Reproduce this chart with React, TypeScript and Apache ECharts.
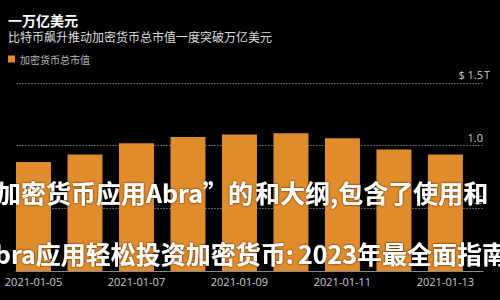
import React, { useEffect, useRef } from "react";
import * as echarts from "echarts";

// Daily total crypto market cap, trillions of USD
const dates = [
  "2021-01-05",
  "2021-01-06",
  "2021-01-07",
  "2021-01-08",
  "2021-01-09",
  "2021-01-10",
  "2021-01-11",
  "2021-01-12",
  "2021-01-13",
];
const marketCap = [0.87, 0.93, 1.02, 1.07, 1.09, 1.1, 1.06, 0.97, 0.93];
const labelledDays = [0, 2, 4, 6, 8];

const titleText = "一万亿美元";
const subtitleText = "比特币飙升推动加密货币总市值一度突破万亿美元";
const seriesName = "加密货币总市值";

const bannerLine1a = "“加密货币应用Abra”的";
const bannerLine1b = "和大纲,包含了使用和";
const bannerLine2a = "Abra应用轻松投资加密货币:";
const bannerLine2b = "2023年最全面指南";

const ORANGE = "#E08B2C";
const CJK = '"Noto Sans CJK SC", "Noto Sans", sans-serif';

export default function App() {
  const ref = useRef<HTMLDivElement>(null);

  useEffect(() => {
    if (!ref.current) return;
    const chart = echarts.init(ref.current, undefined, { renderer: "svg" });

    const bannerStyle = {
      fill: "#ffffff",
      fontSize: 25,
      fontWeight: "bold" as const,
      fontFamily: CJK,
      textShadowColor: "rgba(0,0,0,0.8)",
      textShadowBlur: 2,
      textVerticalAlign: "middle" as const,
    };

    chart.setOption({
      animation: false,
      backgroundColor: "#000000",
      textStyle: { fontFamily: CJK },
      title: {
        text: titleText,
        subtext: subtitleText,
        left: 8,
        top: 13,
        itemGap: 4,
        padding: 0,
        textStyle: { color: "#ffffff", fontSize: 14, fontWeight: "bold", fontFamily: CJK },
        subtextStyle: { color: "#dddddd", fontSize: 12, fontFamily: CJK },
      },
      legend: {
        left: 8,
        top: 54,
        padding: 0,
        icon: "rect",
        itemWidth: 7,
        itemHeight: 7,
        itemGap: 10,
        textStyle: { color: "#b8b8b8", fontSize: 10, fontFamily: CJK },
        data: [seriesName],
      },
      grid: { left: 16, right: 17, top: 83, bottom: 29, containLabel: false },
      xAxis: {
        type: "value",
        min: -0.34,
        max: 8.73,
        splitLine: { show: false },
        axisTick: { show: false },
        axisLine: { show: true, lineStyle: { color: "#8a8a8a", width: 1 } },
        axisLabel: {
          customValues: labelledDays,
          formatter: (v: number) => dates[Math.round(v)] ?? "",
          color: "#cccccc",
          fontSize: 11,
          margin: 5,
          fontFamily: "Open Sans, sans-serif",
        },
      },
      yAxis: {
        type: "value",
        position: "right",
        min: 0,
        max: 1.5,
        interval: 0.5,
        axisLine: { show: false },
        axisTick: { show: false },
        splitLine: { show: true, lineStyle: { color: "#5a5a5a", type: [2, 1], width: 1 } },
        axisLabel: {
          inside: true,
          margin: -7,
          showMinLabel: false,
          verticalAlign: "bottom",
          padding: [0, 0, 3, 0],
          color: "#cccccc",
          fontSize: 11,
          fontFamily: "Open Sans, sans-serif",
          formatter: (v: number) =>
            v === 1.5 ? "$ 1.5{t|T}" : `${v.toFixed(1)}{t| }`,
          rich: {
            t: { width: 7, color: "#cccccc", fontSize: 11, fontFamily: "Open Sans, sans-serif" },
          },
        },
      },
      series: [
        {
          name: seriesName,
          type: "bar",
          barWidth: 35,
          itemStyle: { color: ORANGE },
          data: marketCap.map((v, i) => [i, v]),
        },
      ],
      graphic: [
        { type: "text", z: 100, x: 253, y: 192, style: { ...bannerStyle, text: bannerLine1a, align: "right" } },
        { type: "text", z: 100, x: 255, y: 192, style: { ...bannerStyle, text: bannerLine1b, align: "left" } },
        { type: "text", z: 100, x: 294, y: 253, style: { ...bannerStyle, text: bannerLine2a, align: "right" } },
        { type: "text", z: 100, x: 298, y: 253, style: { ...bannerStyle, text: bannerLine2b, align: "left" } },
      ],
    });

    return () => chart.dispose();
  }, []);

  return (
    <div
      ref={ref}
      style={{ position: "fixed", left: 0, top: 0, width: 500, height: 300 }}
    />
  );
}
